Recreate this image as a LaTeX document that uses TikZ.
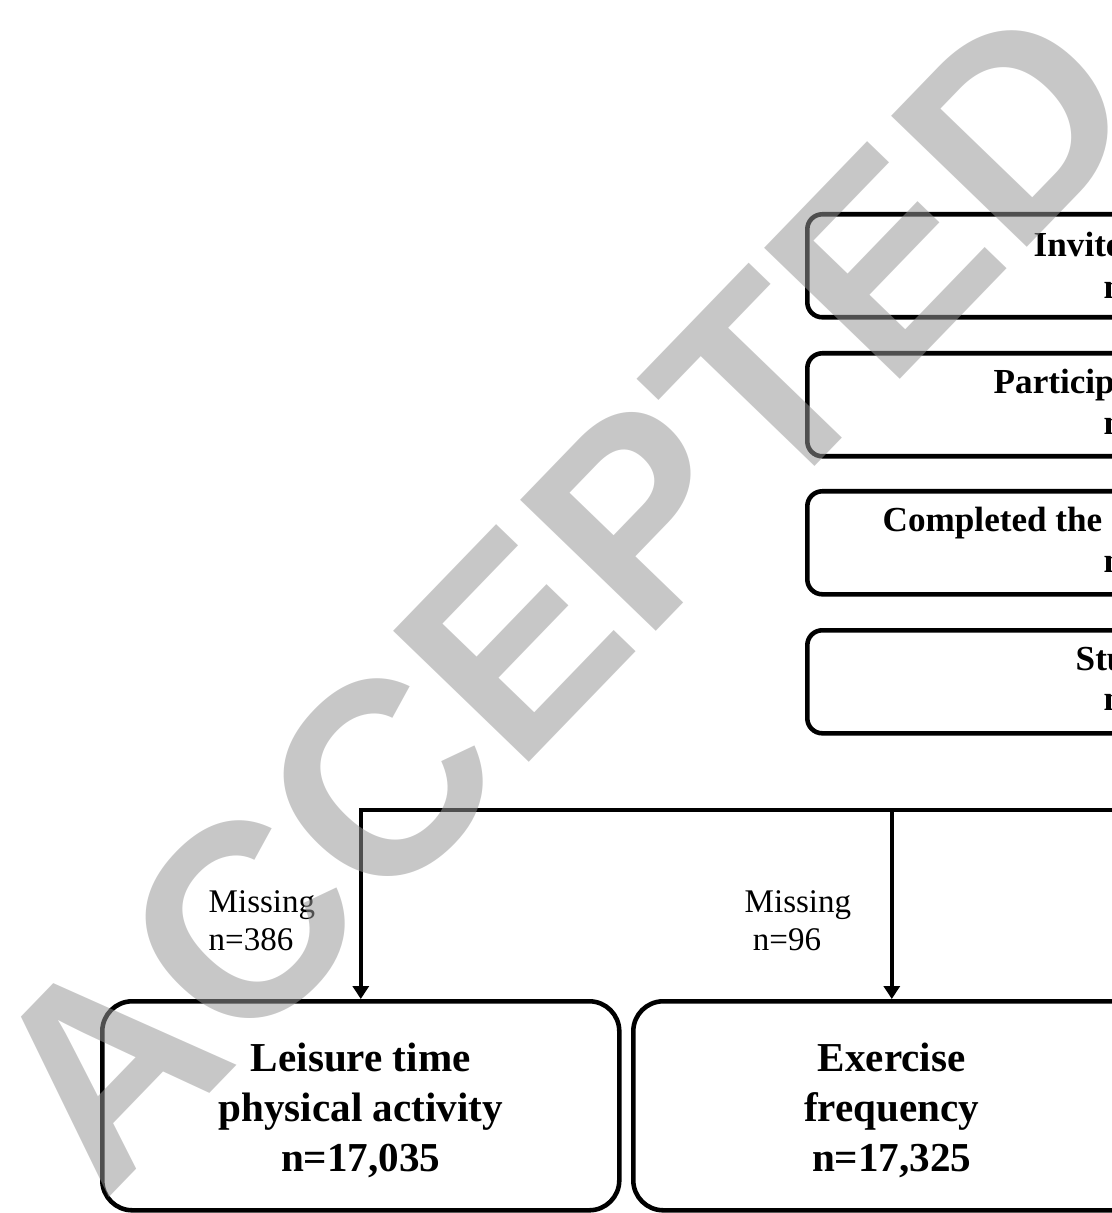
\documentclass[tikz,border=0pt]{standalone}
\usepackage{fontspec}
\setmainfont{Liberation Serif}
\newfontfamily\stampfont{Liberation Sans}
\usetikzlibrary{arrows.meta}

\begin{document}
\begin{tikzpicture}[
  stagebox/.style={draw, line width=1.3pt, rounded corners=0.15cm, minimum height=1.03cm, minimum width=6cm, anchor=north west, inner sep=0},
  outcomebox/.style={draw, line width=1.3pt, rounded corners=0.3cm, minimum height=2.09cm, minimum width=5.17cm, anchor=north west, align=center, inner sep=0, font=\fontsize{11.7}{14.2}\selectfont\bfseries},
  stagetext/.style={anchor=base west, inner sep=0, font=\fontsize{10}{12}\selectfont\bfseries},
  misslabel/.style={anchor=base west, inner sep=0, align=left, font=\fontsize{9.4}{10.6}\selectfont},
  flow/.style={line width=1.2pt, -{Triangle[length=0.13cm,width=0.16cm]}},
  stamp/.style={rotate=46, inner sep=0, text=black!41, opacity=0.53, font=\stampfont\bfseries\fontsize{78}{78}\selectfont}
]

\useasboundingbox (0,0) rectangle (11.12,-12.13);
\clip (0,0) rectangle (11.12,-12.13);

%%%%%%%%%%%%    recruitment stages   %%%%%%%%%%%%
\node[stagebox] (invited) at (8.05,-2.12) {};
\node[stagebox] (participated) at (8.05,-3.51) {};
\node[stagebox] (completed) at (8.05,-4.89) {};
\node[stagebox] (students) at (8.05,-6.28) {};

% stage texts (cut by the right edge)
\node[stagetext] (invitedtxt) at (10.33,-2.57) {Invite};
\node[stagetext] (invitedn) at (11.03,-2.985) {n};
\node[stagetext] (participatedtxt) at (9.93,-3.935) {Particip};
\node[stagetext] (participatedn) at (11.03,-4.35) {n};
\node[stagetext] (completedtxt) at (8.82,-5.32) {Completed the};
\node[stagetext] (completedn) at (11.03,-5.73) {n};
\node[stagetext] (studentstxt) at (10.75,-6.70) {Stu};
\node[stagetext] (studentsn) at (11.03,-7.10) {n};

%%%%%%%%%%%%    outcome measures   %%%%%%%%%%%%
\node[outcomebox] (leisure) at (1.00,-9.99) {\rule{0pt}{0.38cm}Leisure time\\physical activity\\n=17,035};
\node[outcomebox] (exercise) at (6.31,-9.99) {\rule{0pt}{0.38cm}Exercise\\frequency\\n=17,325};

\coordinate (split) at (12,-8.10);
\draw[flow] (split) -| (leisure.north);
\draw[flow] (split -| exercise.north) -- (exercise.north);

% missing counts
\node[misslabel] (missleisure) at (2.08,-9.50) {Missing\\n=386};
\node[misslabel] (missexercise) at (7.44,-9.50) {Missing\\~n=96};

% watermark
\node[stamp] (accepted) at (5.60,-5.95) {ACCEPTED};

\end{tikzpicture}
\end{document}
